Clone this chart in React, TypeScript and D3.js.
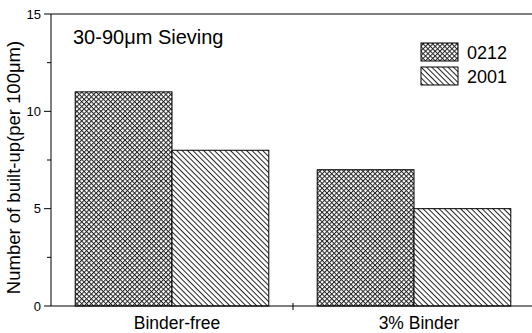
import React from "react";
import * as d3 from "d3";

const categories = ["Binder-free", "3% Binder"];
const seriesNames = ["0212", "2001"];
const values0212 = [11, 7];
const values2001 = [8, 5];
const yTicks = [0, 5, 10, 15];
const yMinorTicks = [2.5, 7.5, 12.5];

const W = 532;
const H = 333;
const FONT = "'Liberation Sans', Arial, sans-serif";

export default function App() {
  const x = d3.scaleLinear().domain([0.5, 2.5]).range([51, 535]);
  const y = d3.scaleLinear().domain([0, 15]).range([306, 14]);
  const barW = 0.4;
  const series = [values0212, values2001];
  const fills = ["url(#cross)", "url(#diag)"];

  return (
    <svg
      width={W}
      height={H}
      style={{ position: "absolute", left: 0, top: 0, background: "#fff" }}
      fontFamily={FONT}
    >
      <defs>
        <pattern id="cross" patternUnits="userSpaceOnUse" width={3.4} height={3.4} patternTransform="rotate(45)">
          <rect width={3.4} height={3.4} fill="#fff" />
          <line x1={0} y1={0.5} x2={3.4} y2={0.5} stroke="#222" strokeWidth={1} />
          <line x1={0.5} y1={0} x2={0.5} y2={3.4} stroke="#222" strokeWidth={1} />
        </pattern>
        <pattern id="diag" patternUnits="userSpaceOnUse" width={3.8} height={3.8} patternTransform="rotate(45)">
          <rect width={3.8} height={3.8} fill="#fff" />
          <line x1={0} y1={0.5} x2={3.8} y2={0.5} stroke="#222" strokeWidth={1} />
        </pattern>
      </defs>

      {/* bars */}
      {categories.map((c, ci) =>
        series.map((vals, si) => {
          const x0 = x(ci + 1 - barW + si * barW);
          const x1 = x(ci + 1 + si * barW);
          return (
            <rect
              key={`${c}-${si}`}
              x={x0}
              y={y(vals[ci])}
              width={x1 - x0}
              height={y(0) - y(vals[ci])}
              fill={fills[si]}
              stroke="#000"
              strokeWidth={1}
            />
          );
        })
      )}

      {/* axes */}
      <line x1={x(0.5)} y1={y(15)} x2={x(0.5)} y2={y(0)} stroke="#000" strokeWidth={1} />
      <line x1={x(0.5)} y1={y(0)} x2={W} y2={y(0)} stroke="#000" strokeWidth={1} />
      <line x1={x(0.5)} y1={y(15)} x2={W} y2={y(15)} stroke="#000" strokeWidth={1} />

      {yTicks.map((t) => (
        <g key={t}>
          <line x1={x(0.5) - 7} x2={x(0.5)} y1={y(t)} y2={y(t)} stroke="#000" />
          <text x={x(0.5) - 10} y={y(t) + 4.5} fontSize={13} textAnchor="end">
            {t}
          </text>
        </g>
      ))}
      {yMinorTicks.map((t) => (
        <line key={t} x1={x(0.5) - 4} x2={x(0.5)} y1={y(t)} y2={y(t)} stroke="#000" />
      ))}
      <line x1={x(1.5)} x2={x(1.5)} y1={y(0) - 3} y2={y(0) + 4} stroke="#000" />

      {categories.map((c, i) => (
        <text key={c} x={x(i + 1) + 5} y={328.5} fontSize={17.5} textAnchor="middle">
          {c}
        </text>
      ))}

      <text
        transform={`translate(20, 167.5) rotate(-90)`}
        fontSize={18.5}
        textAnchor="middle"
      >
        Number of built-up(per 100μm)
      </text>

      <text x={73} y={44} fontSize={20}>
        30-90μm Sieving
      </text>

      {seriesNames.map((s, i) => (
        <g key={s}>
          <rect x={421} y={43 + i * 24} width={37} height={18} fill={fills[i]} stroke="#000" />
          <text x={467} y={58.5 + i * 24.5} fontSize={18}>
            {s}
          </text>
        </g>
      ))}
    </svg>
  );
}
